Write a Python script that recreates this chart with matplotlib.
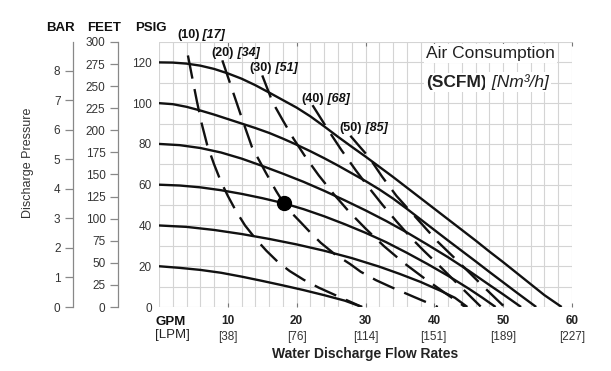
import matplotlib.pyplot as plt
from matplotlib.ticker import MultipleLocator

plt.rcParams['font.family'] = ['Liberation Sans', 'DejaVu Sans']

# pump curves: discharge pressure (psig) vs water flow (gpm), one per air inlet pressure
q_120 = [0, 2, 4, 6, 8, 10, 12, 14, 16, 18, 20, 22, 24, 26, 28, 30, 32, 34, 36, 38,
         40, 42, 44, 46, 48, 50, 52, 54, 56, 58.5]
p_120 = [120, 119.9, 119.4, 118.4, 116.8, 114.6, 112, 108.8, 105.2, 101.5, 97.8, 93.5,
         88.6, 83.5, 78.6, 73.8, 68.8, 63.8, 58.6, 53.4, 48.2, 43, 37.8, 32.6, 27.2, 22,
         16.6, 11.2, 5.8, 0]
q_100 = [0, 2, 4, 6, 8, 10, 12, 14, 16, 18, 20, 22, 24, 26, 28, 30, 32, 34, 36, 38,
         40, 42, 44, 46, 48, 50, 52, 54.8]
p_100 = [100, 99.5, 98.2, 96.4, 94.4, 92.2, 90, 87.8, 85.4, 82.6, 79.6, 76.4, 73, 69.4,
         65.6, 61.8, 57.7, 53.2, 48.2, 43, 37.8, 32.6, 27.5, 22.4, 17.2, 12.1, 7, 0]
q_80 = [0, 3, 6, 9, 12, 15, 18, 21, 24, 27, 30, 33, 36, 39, 42, 45, 48, 50, 52.6]
p_80 = [80, 79.4, 78, 75.8, 72.8, 69.2, 65.4, 61.4, 57, 52.3, 47.4, 42.2, 36.6, 30.6,
        24.4, 17.8, 10.8, 6.2, 0]
q_60 = [0, 3, 6, 9, 12, 15, 18, 21, 24, 27, 30, 33, 36, 39, 42, 45, 47, 48.9]
p_60 = [60, 59.6, 58.7, 57.3, 55.5, 53.4, 51, 48, 44.5, 40.6, 36.4, 31.8, 26.6, 21.1,
        15.3, 9, 4.5, 0]
q_40 = [0, 4, 8, 12, 16, 20, 24, 28, 32, 35, 38, 41, 43, 44.8]
p_40 = [40, 39.3, 37.8, 35.8, 33.4, 30.7, 27.6, 24, 19.8, 16.2, 12.3, 7.8, 4.5, 0]
q_20 = [0, 3, 6, 9, 12, 15, 18, 21, 24, 27, 29.5]
p_20 = [20, 19.2, 18.2, 16.8, 14.9, 12.8, 10.6, 8.3, 5.8, 3.1, 0]

# air consumption curves (SCFM)
q_a10 = [4.2, 4.8, 5.5, 6.2, 7, 8, 9, 10, 11.2, 12.5, 14, 15.6, 17.3, 19, 21, 23.2,
         25.5, 27.5, 29.5]
p_a10 = [123.4, 113, 101, 90, 79.5, 70, 61.5, 54.5, 47, 40, 33.6, 27.6, 22, 17.6, 13.4,
         9.5, 6, 3, 0]
q_a20 = [9.2, 10.2, 11.2, 12.1, 13.5, 15.5, 17, 18.1, 19.4, 20.6, 22, 23.5, 25.5, 27.8,
         29.3, 31.5, 33.7, 37, 40.5]
p_a20 = [121, 111, 101, 92, 78.5, 66, 57, 51, 45.7, 41.5, 36.5, 31.5, 26, 21, 17.3,
         13.2, 9.8, 5, 0]
q_a30 = [15, 16.5, 18, 19.5, 21.3, 23.2, 25.4, 27.6, 30, 32.7, 35.5, 38.5, 41.5, 44.5]
p_a30 = [113.6, 100.5, 91.5, 82.8, 73.5, 64.6, 55.3, 46.8, 38.5, 29.8, 21.8, 14.2, 7, 0]
q_a40 = [22.3, 24.6, 26.5, 28.6, 30.5, 32.5, 34.5, 36.6, 38.5, 40.5, 42.5, 44.6, 46.8]
p_a40 = [99, 86.7, 77, 67, 58.5, 50, 42, 34, 27.5, 21, 14.3, 7.3, 0]
q_a50 = [27.8, 29.2, 30.5, 32.4, 34.5, 36.5, 38.5, 40.5, 42.7, 44.9, 47.5, 50.2]
p_a50 = [84, 78.5, 73.5, 64, 54.5, 47, 39.5, 32, 24.8, 17.5, 8.8, 0]

air_labels = [('(10)', ' [17]', 2.6, 133.2), ('(20)', ' [34]', 7.6, 124.4),
              ('(30)', ' [51]', 13.1, 117.0), ('(40)', ' [68]', 20.7, 101.9),
              ('(50)', ' [85]', 26.2, 87.6)]

gpm_ticks = [10, 20, 30, 40, 50, 60]
lpm_ticks = [38, 76, 114, 151, 189, 227]

fig = plt.figure(figsize=(6.11, 3.71), dpi=100)
ax = fig.add_axes([159 / 611, 1 - 307 / 371, 413 / 611, 265 / 371])
ax.set_xlim(0, 60)
ax.set_ylim(0, 130)
for s in ax.spines.values():
    s.set_visible(False)

ax.xaxis.set_minor_locator(MultipleLocator(2))
ax.yaxis.set_minor_locator(MultipleLocator(10))
ax.grid(which='both', color='#d4d4d4', lw=0.8, zorder=0)
ax.set_axisbelow(True)
ax.tick_params(which='minor', length=0)

ax.set_yticks(range(0, 121, 20))
ax.tick_params(axis='y', which='major', length=0, pad=5, labelsize=8.5, labelcolor='#333333')
ax.set_xticks(gpm_ticks)
ax.set_xticklabels([str(g) for g in gpm_ticks], fontweight='bold')
ax.tick_params(axis='x', which='major', direction='in', length=3, top=True,
               color='#777777', labelsize=8.5, pad=6, labelcolor='#222222')

lpm = ax.secondary_xaxis(0, functions=(lambda g: g * 3.785, lambda l: l / 3.785))
lpm.set_xticks(lpm_ticks)
lpm.set_xticklabels(['[%d]' % v for v in lpm_ticks])
lpm.tick_params(length=0, pad=17, labelsize=8.5, labelcolor='#333333')
lpm.spines['bottom'].set_visible(False)

ax.set_xlabel('Water Discharge Flow Rates', fontsize=10, fontweight='bold',
              color='#222222', labelpad=14)

# extra pressure scales
feet = ax.secondary_yaxis((118 - 159) / 413, functions=(lambda p: p * 300 / 130, lambda f: f * 130 / 300))
feet.set_yticks(range(0, 301, 25))
bar = ax.secondary_yaxis((73 - 159) / 413, functions=(lambda p: p / 14.5, lambda b: b * 14.5))
bar.set_yticks(range(0, 9))
for sec in (feet, bar):
    sec.spines['left'].set_color('#888888')
    sec.spines['left'].set_linewidth(0.9)
    sec.tick_params(length=6, width=0.9, color='#888888', pad=3, labelsize=8.5, labelcolor='#333333')

# curves
for q, p in [(q_120, p_120), (q_100, p_100), (q_80, p_80), (q_60, p_60), (q_40, p_40), (q_20, p_20)]:
    ax.plot(q, p, color='#111111', lw=1.7, zorder=3, solid_capstyle='butt')
for q, p in [(q_a10, p_a10), (q_a20, p_a20), (q_a30, p_a30), (q_a40, p_a40), (q_a50, p_a50)]:
    ax.plot(q, p, color='#111111', lw=1.7, ls=(0, (10, 4.5)), zorder=3)

ax.plot([18.1], [51], 'o', color='#000000', ms=10, zorder=4)

for a, b, x, y in air_labels:
    t = ax.text(x, y, a, fontsize=9, fontweight='bold', va='center', color='#111111',
                clip_on=False, zorder=5)
    ax.annotate(b, xy=(1, 0), xycoords=t, va='bottom', fontsize=9, fontweight='bold',
                style='italic', color='#111111', annotation_clip=False)

box = dict(fc='white', ec='none', pad=1.5)
ax.text(38.8, 124.4, 'Air Consumption', fontsize=12.5, va='center', color='#222222', bbox=box, zorder=5)
t2 = ax.text(38.8, 110.2, '(SCFM)', fontsize=12.5, va='center', fontweight='bold',
             color='#222222', bbox=box, zorder=5)
ax.annotate(' [Nm³/h]', xy=(1, 0), xycoords=t2, va='bottom', fontsize=12.5, style='italic',
            color='#222222', bbox=box, zorder=5)

# headers and side labels
for name, xc in [('BAR', 60), ('FEET', 104), ('PSIG', 151)]:
    fig.text(xc / 611, 1 - 28 / 371, name, ha='center', va='center', fontsize=9.5,
             fontweight='bold', color='#111111')
fig.text(155 / 611, 1 - 322 / 371, 'GPM', ha='left', va='center', fontsize=9.5,
         fontweight='bold', color='#111111')
fig.text(155 / 611, 1 - 335 / 371, '[LPM]', ha='left', va='center', fontsize=9.5, color='#222222')
fig.text(28 / 611, 1 - 163 / 371, 'Discharge Pressure', rotation=90, ha='center', va='center',
         fontsize=9, color='#333333')

fig.savefig('out.png', dpi=100)
